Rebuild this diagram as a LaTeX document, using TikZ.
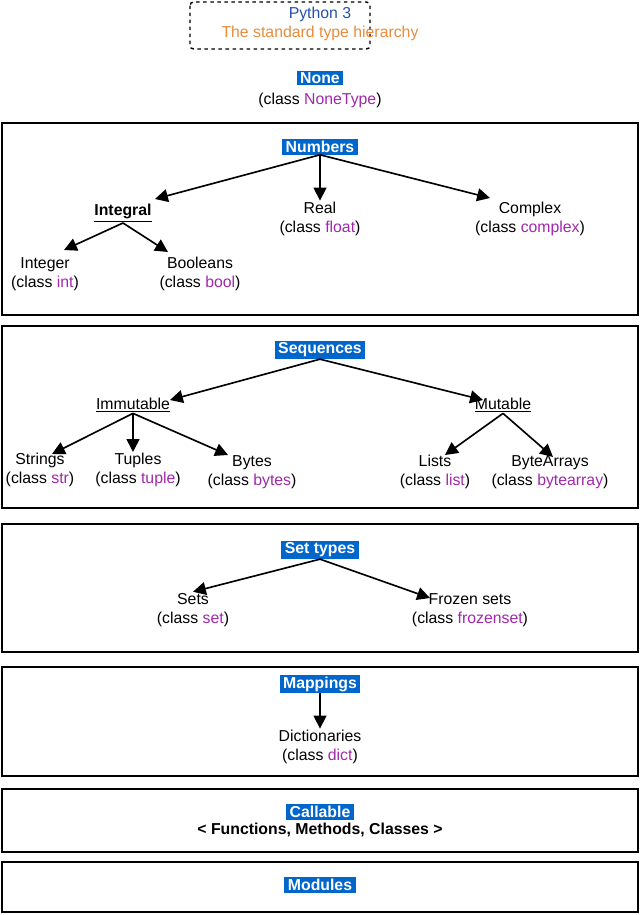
\documentclass[tikz,border=0pt]{standalone}
\usepackage{fontspec}
\setmainfont{Liberation Sans}
\usetikzlibrary{arrows.meta}
\definecolor{tagblue}{RGB}{0,102,204}
\definecolor{clsname}{RGB}{160,40,170}
\definecolor{titleorange}{RGB}{230,140,60}
\definecolor{titleblue}{RGB}{40,80,170}
\newcommand{\cls}[1]{(class \textcolor{clsname}{#1})}

\begin{document}
\begin{tikzpicture}[x=0.03cm,y=-0.03cm,
  font=\fontsize{13.5}{16.5}\selectfont,
  tag/.style={fill=tagblue,text=white,font=\fontsize{13.5}{14}\selectfont\bfseries,inner xsep=3pt,inner ysep=1.5pt},
  leaf/.style={align=center,inner sep=1pt},
  group/.style={draw,line width=1.2pt},
  arr/.style={line width=1.4pt,-{Triangle[width=11pt,length=11pt]}}]
  \useasboundingbox (0,0) rectangle (640,915);
  % title
  \draw[dashed,line width=1.2pt,rounded corners=3pt] (190,2) rectangle (370,49);
  \node[align=center] (title) at (320,24) {\textcolor{titleblue}{Python 3}\\\textcolor{titleorange}{The standard type hierarchy}};
  % none
  \node[tag] (none) at (320,78) {None};
  \node (nonetype) at (320,100) {\cls{NoneType}};
  % numbers
  \draw[group] (2,123) rectangle (638,315);
  \node[tag] (numbers) at (320,147) {Numbers};
  \node[leaf,font=\fontsize{13.5}{16.5}\selectfont\bfseries] (integral) at (123,213) {\underline{Integral}};
  \node[leaf] (real) at (320,219) {Real\\\cls{float}};
  \node[leaf] (complex) at (530,219) {Complex\\\cls{complex}};
  \node[leaf] (integer) at (45,274) {Integer\\\cls{int}};
  \node[leaf] (bool) at (200,274) {Booleans\\\cls{bool}};
  \draw[arr] (numbers.south) -- (155,199);
  \draw[arr] (numbers.south) -- (real.north);
  \draw[arr] (numbers.south) -- (490,198);
  \draw[arr] (integral.south) -- (64,250);
  \draw[arr] (integral.south) -- (168,252);
  % sequences
  \draw[group] (2,326) rectangle (638,508);
  \node[tag] (seq) at (320,350) {Sequences};
  \node[leaf] (immut) at (133,405) {\underline{Immutable}};
  \node[leaf] (mut) at (503,405) {\underline{Mutable}};
  \node[leaf] (str) at (40,470) {Strings\\\cls{str}};
  \node[leaf] (tuple) at (138,470) {Tuples\\\cls{tuple}};
  \node[leaf] (bytes) at (252,472) {Bytes\\\cls{bytes}};
  \node[leaf] (list) at (435,472) {Lists\\\cls{list}};
  \node[leaf] (barr) at (550,472) {ByteArrays\\\cls{bytearray}};
  \draw[arr] (seq.south) -- (170,400);
  \draw[arr] (seq.south) -- (483,400);
  \draw[arr] (immut.south) -- (52,454);
  \draw[arr] (immut.south) -- (133,452);
  \draw[arr] (immut.south) -- (228,455);
  \draw[arr] (mut.south) -- (445,455);
  \draw[arr] (mut.south) -- (553,457);
  % sets
  \draw[group] (2,524) rectangle (638,652);
  \node[tag] (settypes) at (320,550) {Set types};
  \node[leaf] (sets) at (193,610) {Sets\\\cls{set}};
  \node[leaf] (frozen) at (470,610) {Frozen sets\\\cls{frozenset}};
  \draw[arr] (settypes.south) -- (sets.north);
  \draw[arr] (settypes.south) -- (430,598);
  % mappings
  \draw[group] (2,667) rectangle (638,776);
  \node[tag] (map) at (320,684) {Mappings};
  \node[leaf] (dict) at (320,747) {Dictionaries\\\cls{dict}};
  \draw[arr] (map.south) -- (dict.north);
  % callable
  \draw[group] (2,789) rectangle (638,852);
  \node[tag] (call) at (320,812) {Callable};
  \node[font=\fontsize{13.5}{14}\selectfont\bfseries] (callkinds) at (320,830) {< Functions, Methods, Classes >};
  % modules
  \draw[group] (2,862) rectangle (638,912);
  \node[tag] (mod) at (320,885) {Modules};
\end{tikzpicture}
\end{document}
